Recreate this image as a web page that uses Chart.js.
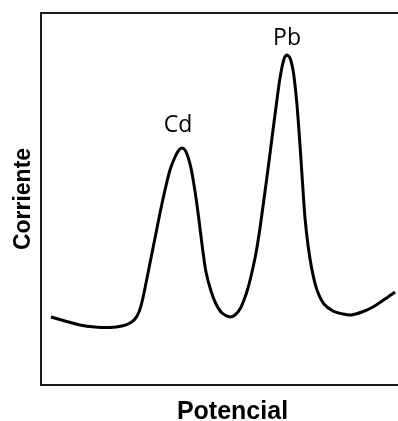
<!DOCTYPE html>
<html>
<head>
<meta charset="utf-8">
<script src="https://cdn.jsdelivr.net/npm/chart.js@4/dist/chart.umd.min.js"></script>
<style>
  html, body { margin: 0; padding: 0; overflow: hidden; background: #ffffff; width: 398px; height: 421px; }
  #wrap { width: 424px; height: 421px; }
  canvas { display: block; }
</style>
</head>
<body>
<div id="wrap"><canvas id="c" width="424" height="421"></canvas></div>
<script>
// Potential (x, arbitrary units) and current (y, arbitrary units)
const potencial = [2.61, 6.27, 10.18, 14.10, 18.02, 21.15, 23.24, 24.54, 25.59, 26.37,
  27.42, 28.46, 29.77, 31.07, 32.38, 33.68, 34.99, 36.03, 36.81, 37.60,
  38.38, 39.16, 39.95, 40.73, 41.51, 42.30, 43.08, 44.39, 45.69, 47.26,
  49.35, 50.65, 51.96, 53.00, 54.05, 55.09, 56.14, 57.18, 58.22, 59.27,
  60.31, 61.36, 62.40, 63.45, 64.23, 65.01, 65.80, 66.32, 66.84, 67.62,
  68.41, 68.93, 69.71, 70.76, 72.06, 73.89, 76.24, 78.85, 80.94, 83.81,
  86.68, 89.82, 92.43];
const corriente = [18.28, 17.20, 16.13, 15.59, 15.46, 15.86, 16.67, 17.74, 19.62, 22.31,
  27.42, 32.80, 39.52, 46.24, 52.42, 57.80, 61.29, 63.17, 63.71, 63.17,
  61.29, 58.33, 53.76, 48.39, 42.20, 35.75, 30.38, 25.27, 21.77, 19.35,
  18.28, 18.82, 20.43, 22.85, 26.08, 30.38, 35.48, 42.20, 50.00, 58.06,
  66.40, 74.73, 82.53, 87.63, 88.71, 87.90, 84.68, 80.65, 75.27, 64.52,
  52.42, 44.89, 37.63, 30.91, 25.54, 21.77, 19.89, 19.09, 18.82, 19.62,
  20.97, 23.12, 25.00];

// Peak labels, anchored in data units
const peakNames = ['Cd', 'Pb'];
const peakLabelX = [35.77, 64.23];
const peakLabelY = [68.0, 91.4];

const axisTitleX = 'Potencial';
const axisTitleY = 'Corriente';

const points = potencial.map((x, i) => ({ x: x, y: corriente[i] }));

const peakLabelPlugin = {
  id: 'peakLabels',
  afterDatasetsDraw(chart) {
    const ctx = chart.ctx;
    const xs = chart.scales.x, ys = chart.scales.y;
    ctx.save();
    ctx.fillStyle = '#000000';
    ctx.font = '23px "Open Sans", "Noto Sans", sans-serif';
    ctx.textAlign = 'center';
    ctx.textBaseline = 'alphabetic';
    peakNames.forEach((name, i) => {
      ctx.fillText(name, xs.getPixelForValue(peakLabelX[i]), ys.getPixelForValue(peakLabelY[i]));
    });
    ctx.restore();
  }
};

const borderOpts = { display: true, color: '#1a1a1a', width: 2 };

new Chart(document.getElementById('c'), {
  type: 'line',
  data: {
    datasets: [{
      data: points,
      borderColor: '#000000',
      borderWidth: 3,
      pointRadius: 0,
      fill: false,
      tension: 0.3,
      xAxisID: 'x',
      yAxisID: 'y'
    }]
  },
  options: {
    responsive: false,
    animation: false,
    devicePixelRatio: 1,
    layout: { padding: { top: 13, left: 0, right: 0, bottom: 0 } },
    plugins: { legend: { display: false }, tooltip: { enabled: false } },
    scales: {
      x: {
        type: 'linear',
        position: 'bottom',
        min: 0, max: 100,
        grid: { display: false, drawTicks: false },
        ticks: { display: false },
        border: borderOpts,
        title: {
          display: true,
          text: axisTitleX,
          color: '#000000',
          font: { family: '"Liberation Sans", Arial, sans-serif', size: 25, weight: 'bold', lineHeight: 0.7 },
          padding: { top: 18.5, bottom: 0 }
        }
      },
      x2: {
        type: 'linear',
        position: 'top',
        min: 0, max: 100,
        grid: { display: false, drawTicks: false },
        ticks: { display: false },
        border: borderOpts
      },
      y: {
        type: 'linear',
        position: 'left',
        min: 0, max: 100,
        grid: { display: false, drawTicks: false },
        ticks: { display: false },
        border: borderOpts,
        title: {
          display: true,
          text: axisTitleY,
          color: '#000000',
          font: { family: '"Liberation Sans", Arial, sans-serif', size: 23, weight: 'bold', lineHeight: 1 },
          padding: { top: 12.5, bottom: 5.5 }
        }
      }
    }
  },
  plugins: [peakLabelPlugin]
});
</script>
</body>
</html>
